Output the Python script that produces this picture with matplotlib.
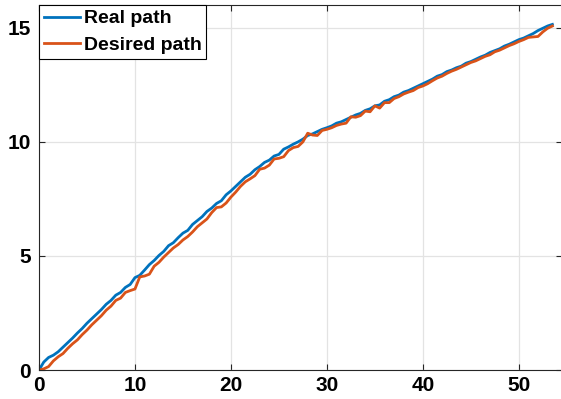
import matplotlib.pyplot as plt
import numpy as np

# real path, sampled every 0.5
x_real = np.arange(0, 54, 0.5)
y_real = [0.00, 0.35, 0.55, 0.65, 0.80, 1.00, 1.20, 1.40, 1.62, 1.82,
          2.05, 2.25, 2.45, 2.65, 2.88, 3.05, 3.28, 3.40, 3.62, 3.75,
          4.05, 4.15, 4.38, 4.62, 4.80, 5.02, 5.20, 5.45, 5.58, 5.80,
          6.00, 6.12, 6.38, 6.55, 6.72, 6.95, 7.10, 7.30, 7.42, 7.68,
          7.85, 8.05, 8.25, 8.45, 8.58, 8.78, 8.92, 9.10, 9.20, 9.38,
          9.45, 9.68, 9.78, 9.90, 10.00, 10.12, 10.28, 10.35, 10.45, 10.55,
          10.62, 10.70, 10.82, 10.88, 10.98, 11.08, 11.18, 11.25, 11.38, 11.45,
          11.58, 11.62, 11.78, 11.85, 11.98, 12.05, 12.18, 12.25, 12.35, 12.45,
          12.55, 12.65, 12.75, 12.88, 12.95, 13.08, 13.15, 13.25, 13.32, 13.45,
          13.52, 13.62, 13.72, 13.80, 13.92, 14.00, 14.08, 14.20, 14.28, 14.38,
          14.48, 14.55, 14.65, 14.75, 14.88, 14.98, 15.08, 15.15]

# desired path
x_des = np.arange(0, 54, 0.5)
y_des = [0.00, 0.05, 0.15, 0.40, 0.58, 0.72, 0.95, 1.15, 1.32, 1.55,
         1.75, 1.98, 2.18, 2.38, 2.62, 2.80, 3.05, 3.15, 3.40, 3.48,
         3.55, 4.08, 4.12, 4.20, 4.55, 4.72, 4.95, 5.15, 5.35, 5.50,
         5.70, 5.85, 6.05, 6.28, 6.45, 6.62, 6.90, 7.12, 7.15, 7.32,
         7.58, 7.80, 8.05, 8.25, 8.38, 8.52, 8.80, 8.85, 8.98, 9.25,
         9.28, 9.35, 9.62, 9.75, 9.80, 10.00, 10.38, 10.30, 10.28, 10.50,
         10.55, 10.62, 10.72, 10.78, 10.82, 11.10, 11.08, 11.15, 11.35, 11.32,
         11.58, 11.48, 11.72, 11.72, 11.90, 11.98, 12.10, 12.18, 12.25, 12.38,
         12.45, 12.55, 12.68, 12.80, 12.88, 13.00, 13.10, 13.18, 13.28, 13.38,
         13.48, 13.55, 13.65, 13.75, 13.82, 13.95, 14.02, 14.12, 14.22, 14.30,
         14.40, 14.48, 14.58, 14.60, 14.62, 14.82, 14.98, 15.08]

plt.rcParams['font.family'] = ['Liberation Sans', 'DejaVu Sans']
plt.rcParams['font.weight'] = 'bold'

fig = plt.figure(figsize=(5.61, 3.99), dpi=100)
ax = fig.add_axes([39 / 561, 29 / 399, 523 / 561, 365 / 399])

ax.plot(x_real, y_real, color='#0072BD', lw=2.0, label='Real path')
ax.plot(x_des, y_des, color='#D95319', lw=2.0, label='Desired path')

ax.set_xlim(0, 54.5)
ax.set_ylim(0, 16)
ax.set_xticks([0, 10, 20, 30, 40, 50])
ax.set_yticks([0, 5, 10, 15])
ax.grid(True, color='#e3e3e3', lw=0.9)
ax.set_axisbelow(True)
ax.tick_params(direction='in', top=True, right=True, labelsize=15,
               colors='#262626', labelcolor='black', length=4, width=0.8)
ax.tick_params(axis='x', pad=4)
ax.tick_params(axis='y', pad=6)
for s in ax.spines.values():
    s.set_color('#262626')
    s.set_linewidth(0.8)

leg = ax.legend(loc='upper left', fontsize=14, frameon=True, fancybox=False,
                framealpha=1, edgecolor='black', borderpad=0.25, handlelength=1.85,
                handletextpad=0.2, labelspacing=0.45, borderaxespad=0)
leg.get_frame().set_linewidth(0.8)

fig.savefig('out.png', dpi=100)
